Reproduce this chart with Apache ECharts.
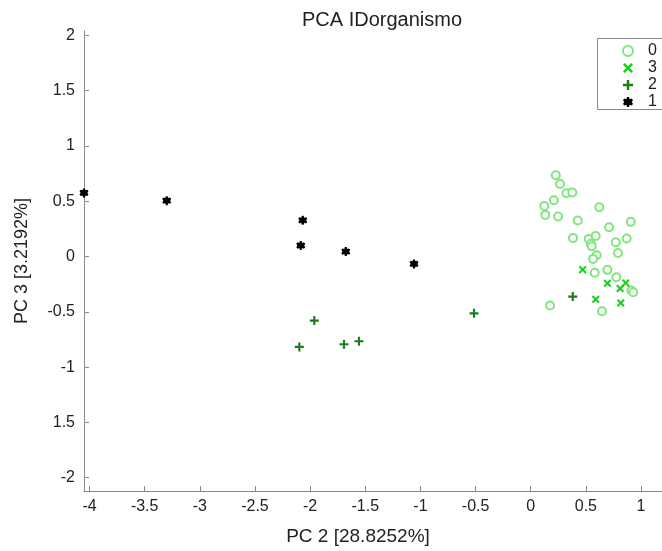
<!DOCTYPE html>
<html>
<head>
<meta charset="utf-8">
<script src="https://cdn.jsdelivr.net/npm/echarts@6/dist/echarts.min.js"></script>
<style>html,body{margin:0;padding:0;background:#fff}#c{width:662px;height:551px}</style>
</head>
<body>
<div id="c"></div>
<script>
var titleText = 'PCA IDorganismo';
var xName = 'PC 2 [28.8252%]';
var yName = 'PC 3 [3.2192%]';
var xTicks = [-4, -3.5, -3, -2.5, -2, -1.5, -1, -0.5, 0, 0.5, 1];
var xTickLabels = ['-4', '-3.5', '-3', '-2.5', '-2', '-1.5', '-1', '-0.5', '0', '0.5', '1'];
var yTicks = [-2, -1.5, -1, -0.5, 0, 0.5, 1, 1.5, 2];
var yTickLabels = ['-2', '1.5', '-1', '-0.5', '0', '0.5', '1', '1.5', '2'];

var group0 = [
  [0.227, 0.735], [0.266, 0.657], [0.323, 0.572], [0.377, 0.579], [0.209, 0.509],
  [0.123, 0.458], [0.132, 0.377], [0.248, 0.362], [0.622, 0.446], [0.426, 0.326],
  [0.907, 0.314], [0.710, 0.265], [0.383, 0.169], [0.526, 0.160], [0.589, 0.187],
  [0.544, 0.115], [0.553, 0.093], [0.771, 0.129], [0.870, 0.163], [0.791, 0.033],
  [0.598, 0.012], [0.565, -0.021], [0.580, -0.147], [0.695, -0.120], [0.776, -0.187],
  [0.912, -0.307], [0.930, -0.323], [0.175, -0.443], [0.646, -0.495]
];
var group3 = [
  [0.471, -0.118], [0.695, -0.241], [0.861, -0.238], [0.810, -0.289], [0.589, -0.386], [0.816, -0.419]
];
var group2 = [
  [-2.098, -0.817], [-1.962, -0.579], [-1.693, -0.793], [-1.557, -0.766], [-0.514, -0.513], [0.381, -0.362]
];
var group1 = [
  [-4.05, 0.576], [-3.30, 0.506], [-2.067, 0.328], [-2.085, 0.10], [-1.677, 0.045], [-1.058, -0.066]
];

var plusPath = 'path://M3.8,0H6.2V3.8H10V6.2H6.2V10H3.8V6.2H0V3.8H3.8Z';
var crossPath = 'path://M0,1.8L1.8,0L5,3.2L8.2,0L10,1.8L6.8,5L10,8.2L8.2,10L5,6.8L1.8,10L0,8.2L3.2,5Z';
var starPath = 'path://M4,0H6L6.6,2.2L8.5,1.5L10,3L8.8,5L10,7L8.5,8.5L6.6,7.8L6,10H4L3.4,7.8L1.5,8.5L0,7L1.2,5L0,3L1.5,1.5L3.4,2.2Z';

var chart = echarts.init(document.getElementById('c'), null, {renderer: 'canvas'});
var axisCol = '#8a8a8a';
var txtCol = '#222';
var font = 'Liberation Sans, Arial, sans-serif';

chart.setOption({
  animation: false,
  backgroundColor: '#fff',
  title: {
    text: titleText, left: 297, top: 5,
    textStyle: {fontSize: 20, fontWeight: 'normal', color: txtCol, fontFamily: font}
  },
  grid: {left: 84, right: 0, top: 31, bottom: 59, containLabel: false},
  xAxis: {
    type: 'value', min: -4.05, max: 1.19,
    name: xName, nameLocation: 'middle', nameGap: 36,
    nameTextStyle: {fontSize: 19, color: txtCol, fontFamily: font, padding: [0, 30, 0, 0]},
    axisLine: {show: true, onZero: false, lineStyle: {color: axisCol, width: 1}},
    axisTick: {show: true, inside: true, length: 5, lineStyle: {color: axisCol}, customValues: xTicks},
    axisLabel: {
      fontSize: 16, color: txtCol, fontFamily: font, margin: 8, customValues: xTicks,
      formatter: function (v) { var i = xTicks.indexOf(Math.round(v * 100) / 100); return i >= 0 ? xTickLabels[i] : ''; }
    },
    splitLine: {show: false}
  },
  yAxis: {
    type: 'value', min: -2.12, max: 2.04,
    name: yName, nameLocation: 'middle', nameGap: 53,
    nameTextStyle: {fontSize: 18, color: txtCol, fontFamily: font},
    axisLine: {show: true, onZero: false, lineStyle: {color: axisCol, width: 1}},
    axisTick: {show: true, inside: true, length: 5, lineStyle: {color: axisCol}, customValues: yTicks},
    axisLabel: {
      fontSize: 16, color: txtCol, fontFamily: font, margin: 9, customValues: yTicks,
      formatter: function (v) { var i = yTicks.indexOf(Math.round(v * 100) / 100); return i >= 0 ? yTickLabels[i] : ''; }
    },
    splitLine: {show: false}
  },
  legend: {
    orient: 'vertical', left: 617, top: 38,
    itemWidth: 12, itemHeight: 10, itemGap: 1,
    data: ['0', '3', '2', '1'],
    textStyle: {fontSize: 16, color: txtCol, fontFamily: font, padding: [0, 0, 0, 9], lineHeight: 16}
  },
  graphic: [{
    type: 'rect', left: 597, top: 38, z: 0,
    shape: {width: 80, height: 71},
    style: {fill: '#fff', stroke: axisCol, lineWidth: 1}
  }],
  series: [
    {name: '0', type: 'scatter', data: group0, symbol: 'emptyCircle', symbolSize: 8,
     itemStyle: {color: '#80e680', borderColor: '#80e680', borderWidth: 1.5, opacity: 1}},
    {name: '3', type: 'scatter', data: group3, symbol: crossPath, symbolSize: 8,
     itemStyle: {color: '#14d214', opacity: 1}},
    {name: '2', type: 'scatter', data: group2, symbol: plusPath, symbolSize: 9,
     itemStyle: {color: '#1c7c1c', opacity: 1}},
    {name: '1', type: 'scatter', data: group1, symbol: starPath, symbolSize: 9,
     itemStyle: {color: '#000', opacity: 1}}
  ]
});
</script>
</body>
</html>
